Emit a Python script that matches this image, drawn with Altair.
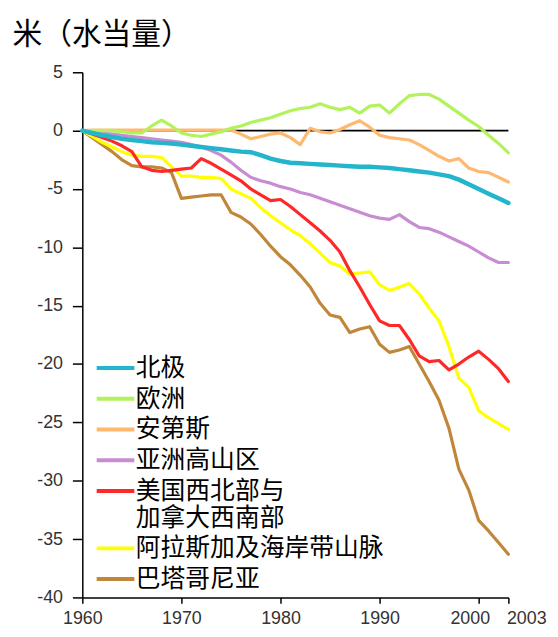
import altair as alt
import pandas as pd

years = list(range(1960, 2004))

regions = ["北极", "欧洲", "安第斯", "亚洲高山区", "美国西北部与|加拿大西南部", "阿拉斯加及海岸带山脉", "巴塔哥尼亚"]
colors = ["#22B5CC", "#B2F25A", "#FFB870", "#C88CD2", "#FF2828", "#FFFF00", "#C0863A"]

arctic = [0, -0.2, -0.4, -0.55, -0.7, -0.8, -0.9, -1.0, -1.05, -1.1, -1.2,
          -1.3, -1.4, -1.5, -1.6, -1.7, -1.8, -1.85, -2.1, -2.4, -2.6,
          -2.75, -2.8, -2.85, -2.9, -2.95, -3.0, -3.05, -3.1, -3.1, -3.15,
          -3.2, -3.3, -3.4, -3.5, -3.6, -3.75, -3.9, -4.2, -4.6, -5.0,
          -5.4, -5.8, -6.2]
europe = [0, 0, 0, 0, -0.1, -0.2, -0.2, 0.4, 0.9, 0.4, -0.2,
          -0.4, -0.5, -0.3, -0.1, 0.2, 0.4, 0.7, 0.9, 1.1, 1.4,
          1.7, 1.9, 2.0, 2.3, 2.0, 1.8, 2.0, 1.5, 2.1, 2.2,
          1.5, 2.3, 3.0, 3.1, 3.1, 2.7, 2.1, 1.5, 0.9, 0.35,
          -0.4, -1.1, -1.9]
andes = [0, 0.05, 0.05, 0.05, 0.05, 0.05, 0.05, 0.05, 0.05, 0.05, 0.05,
         0.05, 0.05, 0.05, 0.05, 0.05, -0.3, -0.7, -0.5, -0.3, -0.2,
         -0.6, -1.2, 0.2, -0.1, -0.2, 0.1, 0.5, 0.85, 0.3, -0.4,
         -0.6, -0.7, -0.8, -1.2, -1.7, -2.2, -2.6, -2.4, -3.2, -3.5,
         -3.6, -4.0, -4.4]
asia = [0, -0.1, -0.2, -0.3, -0.4, -0.5, -0.6, -0.7, -0.8, -0.9, -1.0,
        -1.2, -1.4, -1.7, -2.1, -2.7, -3.4, -4.0, -4.3, -4.5, -4.8,
        -5.0, -5.3, -5.5, -5.8, -6.1, -6.4, -6.7, -7.0, -7.3, -7.5,
        -7.6, -7.2, -7.8, -8.3, -8.4, -8.7, -9.1, -9.5, -9.9, -10.4,
        -10.9, -11.3, -11.3]
nw_america = [0, -0.3, -0.6, -0.9, -1.3, -1.8, -3.1, -3.4, -3.5, -3.4, -3.3,
              -3.2, -2.4, -2.8, -3.3, -3.8, -4.3, -5.0, -5.5, -6.0, -5.9,
              -6.5, -7.2, -7.9, -8.6, -9.4, -10.4, -12.0, -13.4, -14.9, -16.3,
              -16.7, -16.7, -17.9, -19.3, -19.8, -19.7, -20.5, -20.0, -19.4, -18.9,
              -19.6, -20.4, -21.5]
alaska = [0, -0.5, -1.0, -1.4, -1.8, -2.1, -2.2, -2.2, -2.3, -3.1, -3.9,
          -3.9, -4.0, -4.0, -4.1, -5.0, -5.4, -5.8, -6.6, -7.3, -7.9,
          -8.5, -9.0, -9.7, -10.5, -11.3, -11.6, -12.3, -12.2, -12.1, -13.2,
          -13.7, -13.4, -13.1, -14.0, -15.2, -16.3, -18.5, -21.2, -22.0, -24.0,
          -24.6, -25.1, -25.6]
patagonia = [0, -0.6, -1.2, -1.8, -2.5, -3.0, -3.1, -3.1, -3.2, -3.6, -5.8,
             -5.7, -5.6, -5.5, -5.5, -7.0, -7.4, -8.0, -8.9, -9.9, -10.8,
             -11.5, -12.4, -13.4, -14.8, -15.8, -16.0, -17.3, -17.0, -16.8, -18.3,
             -19.0, -18.8, -18.5, -20.0, -21.5, -23.1, -25.5, -29.0, -30.8, -33.4,
             -34.3, -35.3, -36.3]

series = [arctic, europe, andes, asia, nw_america, alaska, patagonia]
draw_order = [6, 5, 4, 3, 2, 1, 0]

rows = []
for i in draw_order:
    for yr, v in zip(years, series[i]):
        rows.append({"year": yr, "value": v, "region": regions[i]})
df = pd.DataFrame(rows)

zero_df = pd.DataFrame({"zero": [0]})

x_ticks = [1960, 1970, 1980, 1990, 2000, 2003]
y_ticks = [5, 0, -5, -10, -15, -20, -25, -30, -35, -40]

FONT_NUM = "Liberation Sans"
FONT_CJK = "Noto Sans CJK SC"

x_scale = alt.Scale(domain=[1960, 2003], nice=False, zero=False)
y_scale = alt.Scale(domain=[-40, 5], nice=False, zero=False)

x_axis = alt.Axis(
    values=x_ticks, title=None, grid=False,
    labelExpr="'' + datum.value",
    labelFont=FONT_NUM, labelFontSize=18, labelColor="#333333",
    labelPadding=6, tickSize=6, tickWidth=1.5, tickColor="black",
    domainColor="black", domainWidth=1.5, labelFlush=False,
    labelOffset={"condition": [{"test": "datum.value == 2000", "value": -9},
                               {"test": "datum.value == 2003", "value": 18}],
                 "value": 0},
)
y_axis = alt.Axis(
    values=y_ticks, grid=False,
    labelExpr="'' + datum.value",
    labelFont=FONT_NUM, labelFontSize=18, labelColor="#333333",
    labelPadding=10, tickSize=10, tickWidth=1.5, tickColor="black",
    domainColor="black", domainWidth=1.5, labelFlush=False,
    title="米（水当量）", titleAngle=0, titleAlign="left", titleBaseline="middle",
    titleX=-71, titleY=-38, titleFont=FONT_CJK, titleFontSize=30,
    titleFontWeight="normal", titleColor="black",
)

zero_rule = alt.Chart(zero_df).mark_rule(color="black", strokeWidth=2).encode(
    y=alt.Y("zero:Q", scale=y_scale, axis=y_axis)
)

lines = alt.Chart(df).mark_line(strokeJoin="round", strokeCap="round").encode(
    x=alt.X("year:Q", scale=x_scale, axis=x_axis),
    y=alt.Y("value:Q", scale=y_scale, axis=y_axis),
    color=alt.Color(
        "region:N",
        scale=alt.Scale(domain=regions, range=colors),
        legend=alt.Legend(
            orient="none", legendX=21, legendY=286, title=None,
            symbolType="M-2.5,0H2.5", symbolSize=231, symbolStrokeWidth=4,
            labelFont=FONT_CJK, labelFontSize=25, labelColor="black",
            labelExpr="split(datum.label, '|')", labelLimit=400,
            rowPadding=5, labelOffset=8, padding=0,
        ),
    ),
    strokeWidth=alt.condition(alt.datum.region == "北极", alt.value(4.5), alt.value(3.2)),
    detail="region:N",
)

chart = alt.layer(zero_rule, lines).properties(
    width=430, height=530,
    autosize=alt.AutoSizeParams(type="none"),
    padding={"left": 75, "top": 62, "right": 42, "bottom": 30},
    background="white",
).configure_view(stroke=None)

chart.save("out.html", embed_options={"renderer": "svg", "actions": False})
